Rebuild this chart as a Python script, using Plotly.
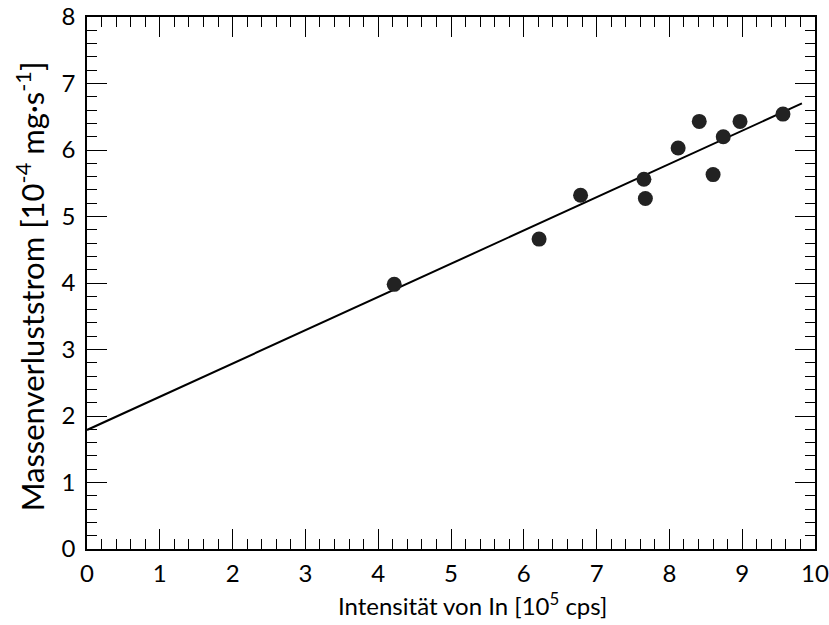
import plotly.graph_objects as go

# Data
x_intensity = [4.22, 6.21, 6.78, 7.65, 7.67, 8.12, 8.41, 8.60, 8.74, 8.97, 9.56]
y_massloss = [3.98, 4.66, 5.32, 5.56, 5.27, 6.03, 6.43, 5.63, 6.20, 6.43, 6.54]

fit_intercept = 1.79
fit_slope = 0.50
fit_x = [0.0, 9.82]
fit_y = [fit_intercept + fit_slope * v for v in fit_x]

x_tickvals = list(range(0, 11))
x_ticktext = [str(v) for v in x_tickvals]
y_tickvals = list(range(0, 9))
y_ticktext = [str(v) for v in y_tickvals]

x_title = "Intensität von In [10<sup>5</sup> cps]"
y_title = "Massenverluststrom [10<sup>-4</sup> mg·s<sup>-1</sup>]"

FONT = "Lato, 'Open Sans', sans-serif"

fig = go.Figure()
fig.add_trace(go.Scatter(
    x=fit_x, y=fit_y, mode="lines",
    line=dict(color="black", width=2),
    showlegend=False, hoverinfo="skip",
))
fig.add_trace(go.Scatter(
    x=x_intensity, y=y_massloss, mode="markers",
    marker=dict(size=15, color="#222222", line=dict(width=0)),
    showlegend=False,
))

axis_common = dict(
    showline=True, linecolor="black", linewidth=1.5,
    mirror="allticks", ticks="inside", ticklen=20, tickwidth=1.3,
    tickcolor="black", showgrid=False, zeroline=False, automargin=False,
    ticklabeloverflow="allow",
    tickfont=dict(family=FONT, size=24, color="black"),
)

fig.update_xaxes(
    range=[0, 10], tickvals=x_tickvals, ticktext=x_ticktext,
    minor=dict(dtick=0.2, ticks="inside", ticklen=10, tickwidth=1, tickcolor="black", showgrid=False),
    ticklabelstandoff=2,
    **axis_common,
)
fig.update_yaxes(
    range=[0, 8], tickvals=y_tickvals, ticktext=y_ticktext,
    minor=dict(dtick=0.2, ticks="inside", ticklen=10, tickwidth=1, tickcolor="black", showgrid=False),
    ticklabelstandoff=5,
    **axis_common,
)

fig.add_annotation(
    text=x_title, xref="x", x=5.3, yref="paper", y=0,
    yanchor="middle", xanchor="center", yshift=-55, showarrow=False,
    font=dict(family=FONT, size=24, color="black"),
)
fig.add_annotation(
    text=y_title, xref="paper", x=0, yref="y", y=3.95,
    xanchor="center", yanchor="middle", xshift=-57, textangle=-90, showarrow=False,
    font=dict(family=FONT, size=31, color="black"),
)

fig.update_layout(
    width=829, height=625,
    margin=dict(l=87, r=14, t=17, b=76),
    plot_bgcolor="white", paper_bgcolor="white",
)

# remove the default 8px page margin so the figure fills the window exactly
fig.write_html("out.html", config={"displayModeBar": False},
               post_script="document.body.style.margin='0';")
